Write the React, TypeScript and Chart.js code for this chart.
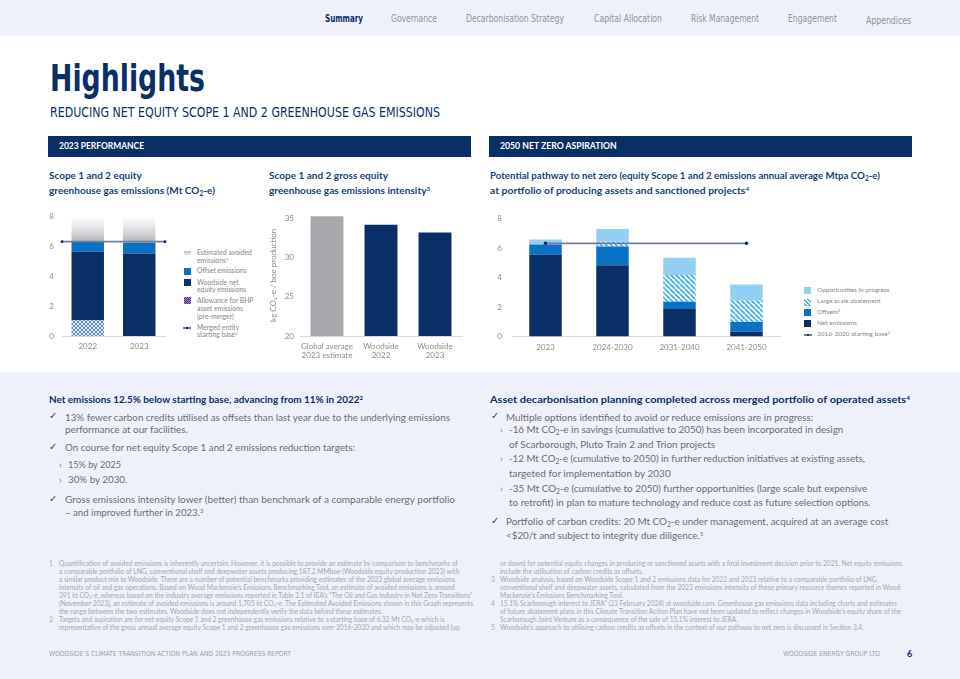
import React, { useEffect, useLayoutEffect, useRef } from 'react';
import { Chart, registerables } from 'chart.js';

Chart.register(...registerables);

// ---------------- data ----------------
const performanceYears = ['2022', '2023'];
const bhpAllowance = [1.05, 0];
const netEquityEmissions = [4.59, 5.53];
const offsetEmissions = [0.73, 0.72];
const avoidedEmissions = [1.68, 1.8];
const startingBase = 6.32;
const emissionsTicks = [0, 2, 4, 6, 8];

const intensityCategories = [['Global average', '2023 estimate'], ['Woodside', '2022'], ['Woodside', '2023']];
const intensityValues = [35.3, 34.2, 33.2];
const intensityTicks = [20, 25, 30, 35];

const pathwayPeriods = ['2023', '2024-2030', '2031-2040', '2041-2050'];
const pathwayNet = [5.55, 4.84, 1.86, 0.33];
const pathwayOffsets = [0.7, 1.26, 0.49, 0.65];
const pathwayLargeScale = [0, 0.33, 1.83, 1.46];
const pathwayOpportunities = [0.33, 0.87, 1.16, 1.09];
const pathwayBase = [startingBase, null, null, startingBase];

// ---------------- styles ----------------
const NAVY = '#0a2f66';
const BLUE = '#0a72c4';
const LIGHT_BLUE = '#93cff2';
const STRIPE_BLUE = '#4db4ea';
const GREY_BAR = '#a7a9ac';
const BASE_LINE = '#6f7ea0';
const TICK_COLOR = '#8b8c8f';
const PAGE_TINT = '#eef1f9';
const BODY = '#6b6d72';
const TITLE = '#173f73';
const LATO = 'Lato, "Open Sans", sans-serif';
const NARROW = '"Liberation Sans Narrow", "DejaVu Sans Condensed", sans-serif';

Chart.defaults.font.family = 'Lato';

function makeCrossPattern(): CanvasPattern | string {
  const c = document.createElement('canvas');
  c.width = 4;
  c.height = 4;
  const p = c.getContext('2d');
  if (!p) return '#8fa9d8';
  p.fillStyle = '#e4ebf6';
  p.fillRect(0, 0, 4, 4);
  p.fillStyle = '#5d86c8';
  for (let i = 0; i < 4; i++) {
    p.fillRect(i, i, 1, 1);
    p.fillRect(3 - i, i, 1, 1);
  }
  return p.createPattern(c, 'repeat') || '#8fa9d8';
}

function makeStripePattern(): CanvasPattern | string {
  const s = 5;
  const c = document.createElement('canvas');
  c.width = s;
  c.height = s;
  const p = c.getContext('2d');
  if (!p) return STRIPE_BLUE;
  p.fillStyle = '#ffffff';
  p.fillRect(0, 0, s, s);
  p.strokeStyle = STRIPE_BLUE;
  p.lineWidth = 2;
  p.beginPath();
  for (const k of [-s, 0, s]) {
    p.moveTo(k, 0);
    p.lineTo(k + s, s);
  }
  p.stroke();
  return p.createPattern(c, 'repeat') || STRIPE_BLUE;
}

const tickFont = { family: 'Lato', size: 8, lineHeight: 1.15 };

function useChart(build: () => any) {
  const ref = useRef<HTMLCanvasElement>(null);
  useEffect(() => {
    if (!ref.current) return;
    const chart = new Chart(ref.current, build());
    return () => chart.destroy();
  }, []);
  return ref;
}

function buildLeft() {
  const cross = makeCrossPattern();
  const avoidedFill = (c: any) => {
    const chart = c.chart;
    const y = chart.scales && chart.scales.y;
    if (!chart.chartArea || !y) return 'rgba(200,200,200,0.5)';
    const g = chart.ctx.createLinearGradient(0, y.getPixelForValue(6.2), 0, y.getPixelForValue(8.05));
    g.addColorStop(0, '#a9abaf');
    g.addColorStop(0.25, '#c6c8cb');
    g.addColorStop(0.6, '#e6e7e8');
    g.addColorStop(1, '#ffffff');
    return g;
  };
  return {
    type: 'bar',
    data: {
      labels: performanceYears,
      datasets: [
        {
          type: 'line',
          label: 'Merged entity starting base',
          data: [{ x: 0, y: startingBase }, { x: 1, y: startingBase }],
          xAxisID: 'xBase',
          yAxisID: 'y',
          stack: 'base',
          borderColor: BASE_LINE,
          borderWidth: 1.8,
          pointStyle: 'rect',
          pointRadius: 1.8,
          pointBackgroundColor: NAVY,
          pointBorderColor: NAVY,
          pointBorderWidth: 0,
          clip: false,
          order: -1,
        },
        { label: 'Allowance for BHP asset emissions', data: bhpAllowance, backgroundColor: cross, stack: 'e' },
        { label: 'Woodside net equity emissions', data: netEquityEmissions, backgroundColor: NAVY, stack: 'e' },
        { label: 'Offset emissions', data: offsetEmissions, backgroundColor: BLUE, stack: 'e' },
        { label: 'Estimated avoided emissions', data: avoidedEmissions, backgroundColor: avoidedFill, stack: 'e' },
      ],
    },
    options: {
      animation: false,
      responsive: false,
      maintainAspectRatio: false,
      layout: { padding: { top: 10, right: 15, left: 0, bottom: 0 } },
      datasets: { bar: { barPercentage: 0.63, categoryPercentage: 1, grouped: false } },
      plugins: { legend: { display: false }, tooltip: { enabled: false } },
      scales: {
        x: {
          stacked: true,
          grid: { display: false, drawTicks: false },
          border: { display: true, color: '#dadada' },
          ticks: { color: TICK_COLOR, font: tickFont, padding: 6, maxRotation: 0, minRotation: 0 },
          afterFit: (s: any) => { s.height = 28; },
        },
        xBase: { type: 'linear', display: false, offset: false, min: 0, max: 1 },
        y: {
          stacked: true,
          min: 0,
          max: 8,
          afterBuildTicks: (s: any) => { s.ticks = emissionsTicks.map((v) => ({ value: v })); },
          grid: { display: false, drawTicks: false },
          border: { display: false },
          ticks: { color: TICK_COLOR, font: tickFont, padding: 8 },
          afterFit: (s: any) => { s.width = 22; },
        },
      },
    },
  };
}

function buildMid() {
  return {
    type: 'bar',
    data: {
      labels: intensityCategories,
      datasets: [
        {
          label: 'Intensity',
          data: intensityValues,
          backgroundColor: [GREY_BAR, NAVY, NAVY],
          barPercentage: 0.61,
          categoryPercentage: 1,
        },
      ],
    },
    options: {
      animation: false,
      responsive: false,
      maintainAspectRatio: false,
      layout: { padding: { top: 10, right: 10, left: 0, bottom: 0 } },
      plugins: { legend: { display: false }, tooltip: { enabled: false } },
      scales: {
        x: {
          grid: { display: false, drawTicks: false },
          border: { display: true, color: '#dadada' },
          ticks: {
            color: TICK_COLOR, font: { family: 'Lato', size: 8, lineHeight: 1.125 }, padding: 6,
            maxRotation: 0, minRotation: 0, autoSkip: false,
          },
          afterFit: (s: any) => { s.height = 28; },
        },
        y: {
          min: 20,
          max: 35.5,
          afterBuildTicks: (s: any) => { s.ticks = intensityTicks.map((v) => ({ value: v })); },
          grid: { display: false, drawTicks: false },
          border: { display: false },
          ticks: { color: TICK_COLOR, font: tickFont, padding: 6 },
          title: {
            display: true,
            text: 'kg CO₂-e / boe production',
            color: TICK_COLOR,
            font: { family: 'Lato', size: 8, lineHeight: 1.2 },
            padding: { top: 6.5, bottom: 0 },
          },
          afterFit: (s: any) => { s.width = 38; },
        },
      },
    },
  };
}

function buildRight() {
  const stripes = makeStripePattern();
  return {
    type: 'bar',
    data: {
      labels: pathwayPeriods,
      datasets: [
        {
          type: 'line',
          label: '2016-2020 starting base',
          data: pathwayBase,
          spanGaps: true,
          stack: 'base',
          borderColor: BASE_LINE,
          borderWidth: 1.8,
          pointRadius: 1.8,
          pointBackgroundColor: NAVY,
          pointBorderColor: NAVY,
          pointBorderWidth: 0,
          clip: false,
          order: -1,
        },
        { label: 'Net emissions', data: pathwayNet, backgroundColor: NAVY, stack: 'p' },
        { label: 'Offsets', data: pathwayOffsets, backgroundColor: BLUE, stack: 'p' },
        { label: 'Large scale abatement', data: pathwayLargeScale, backgroundColor: stripes, stack: 'p' },
        { label: 'Opportunities in progress', data: pathwayOpportunities, backgroundColor: LIGHT_BLUE, stack: 'p' },
      ],
    },
    options: {
      animation: false,
      responsive: false,
      maintainAspectRatio: false,
      layout: { padding: { top: 10, right: 10, left: 0, bottom: 0 } },
      datasets: { bar: { barPercentage: 0.485, categoryPercentage: 1, grouped: false } },
      plugins: { legend: { display: false }, tooltip: { enabled: false } },
      scales: {
        x: {
          stacked: true,
          grid: { display: false, drawTicks: false },
          border: { display: true, color: '#dadada' },
          ticks: { color: TICK_COLOR, font: tickFont, padding: 6, maxRotation: 0, minRotation: 0, autoSkip: false },
          afterFit: (s: any) => { s.height = 27.5; },
        },
        y: {
          stacked: true,
          min: 0,
          max: 8,
          afterBuildTicks: (s: any) => { s.ticks = emissionsTicks.map((v) => ({ value: v })); },
          grid: { display: false, drawTicks: false },
          border: { display: false },
          ticks: { color: TICK_COLOR, font: tickFont, padding: 10 },
          afterFit: (s: any) => { s.width = 22; },
        },
      },
    },
  };
}

// ---------------- text helpers ----------------
const Sub = ({ children }: { children: React.ReactNode }) => (
  <sub style={{ fontSize: '0.68em', verticalAlign: '-0.3em', lineHeight: 0 }}>{children}</sub>
);
const Sup = ({ children }: { children: React.ReactNode }) => (
  <sup style={{ fontSize: '0.6em', verticalAlign: '0.55em', lineHeight: 0 }}>{children}</sup>
);
const CO2 = () => (<>CO<Sub>2</Sub></>);

type TxtProps = {
  x: number; cy: number; size: number; color?: string; weight?: number | string;
  family?: string; ls?: number; k?: number; w?: number; children: React.ReactNode;
};
// w: the width the line spans in the reference; the line is fitted to it horizontally.
const Txt = ({ x, cy, size, color = BODY, weight = 400, family = LATO, ls = 0, k = 0.58, w, children }: TxtProps) => {
  const ref = useRef<HTMLDivElement>(null);
  useLayoutEffect(() => {
    const el = ref.current;
    if (!el || !w) return;
    el.style.transform = 'none';
    const natural = el.getBoundingClientRect().width;
    if (natural > 0) el.style.transform = `scaleX(${w / natural})`;
  }, [w]);
  return (
    <div
      ref={ref}
      style={{
        position: 'absolute', left: x, top: cy - size * k, fontSize: size, lineHeight: 1,
        fontFamily: family, fontWeight: weight as any, color, letterSpacing: ls, whiteSpace: 'nowrap',
        transformOrigin: 'left center',
      }}
    >
      {children}
    </div>
  );
};

const Box = ({ x, y, w, h, bg }: { x: number; y: number; w: number; h: number; bg: string }) => (
  <div style={{ position: 'absolute', left: x, top: y, width: w, height: h, background: bg }} />
);

const navItems: [string, number, number, number][] = [
  ['Summary', 325, 38, 19],
  ['Governance', 391, 46, 19],
  ['Decarbonisation Strategy', 466, 98, 19],
  ['Capital Allocation', 594, 68, 19],
  ['Risk Management', 691, 68, 19],
  ['Engagement', 788, 49, 19],
  ['Appendices', 866, 45, 20.5],
];

const footLeft: [string, React.ReactNode][] = [
  ['1', 'Quantification of avoided emissions is inherently uncertain. However, it is possible to provide an estimate by comparison to benchmarks of'],
  ['', 'a comparable portfolio of LNG, conventional shelf and deepwater assets producing 187.2 MMboe (Woodside equity production 2023) with'],
  ['', 'a similar product mix to Woodside. There are a number of potential benchmarks providing estimates of the 2023 global average emissions'],
  ['', 'intensity of oil and gas operations. Based on Wood Mackenzie’s Emissions Benchmarking Tool, an estimate of avoided emissions is around'],
  ['', <>391 kt <CO2 />-e, whereas based on the industry average emissions reported in Table 3.1 of IEA’s “The Oil and Gas Industry in Net Zero Transitions”</>],
  ['', <>(November 2023), an estimate of avoided emissions is around 1,705 kt <CO2 />-e. The Estimated Avoided Emissions shown in this Graph represents</>],
  ['', 'the range between the two estimates. Woodside does not independently verify the data behind these estimates.'],
  ['2', <>Targets and aspiration are for net equity Scope 1 and 2 greenhouse gas emissions relative to a starting base of 6.32 Mt <CO2 />-e which is</>],
  ['', 'representative of the gross annual average equity Scope 1 and 2 greenhouse gas emissions over 2016-2020 and which may be adjusted (up'],
];

const footRight: [string, React.ReactNode][] = [
  ['', 'or down) for potential equity changes in producing or sanctioned assets with a final investment decision prior to 2021. Net equity emissions'],
  ['', 'include the utilisation of carbon credits as offsets.'],
  ['3', 'Woodside analysis, based on Woodside Scope 1 and 2 emissions data for 2022 and 2023 relative to a comparable portfolio of LNG,'],
  ['', 'conventional shelf and deepwater assets, calculated from the 2023 emissions intensity of these primary resource themes reported in Wood'],
  ['', 'Mackenzie’s Emissions Benchmarking Tool.'],
  ['4', '15.1% Scarborough interest to JERA” (23 February 2024) at woodside.com. Greenhouse gas emissions data including charts and estimates'],
  ['', 'of future abatement plans in this Climate Transition Action Plan have not been updated to reflect changes in Woodside’s equity share of the'],
  ['', 'Scarborough Joint Venture as a consequence of the sale of 15.1% interest to JERA.'],
  ['5', 'Woodside’s approach to utilising carbon credits as offsets in the context of our pathway to net zero is discussed in Section 3.4.'],
];

const Check = ({ x, cy }: { x: number; cy: number }) => (
  <Txt x={x} cy={cy} size={10} color="#3d3f44" family='"DejaVu Sans", sans-serif' k={0.62}>✓</Txt>
);
const Chev = ({ x, cy }: { x: number; cy: number }) => (
  <Txt x={x} cy={cy} size={10} color="#7a7c80">›</Txt>
);

const LegendText = ({ x, lines, size = 6.8 }: { x: number; lines: [number, React.ReactNode][]; size?: number }) => (
  <>
    {lines.map(([cy, t], i) => (
      <Txt key={i} x={x} cy={cy} size={size} color="#85878b">{t}</Txt>
    ))}
  </>
);

const BaseIcon = ({ x, cy }: { x: number; cy: number }) => (
  <>
    <div style={{ position: 'absolute', left: x, top: cy - 0.8, width: 8, height: 1.6, background: BASE_LINE }} />
    <div style={{ position: 'absolute', left: x + 3, top: cy - 1, width: 2, height: 2, background: NAVY }} />
  </>
);

export default function App() {
  const leftRef = useChart(buildLeft);
  const midRef = useChart(buildMid);
  const rightRef = useChart(buildRight);

  const bodySize = 10;
  const headSize = 10;
  const footSize = 6.6;
  const footY0 = 564;
  const footStep = 7.95;

  return (
    <div
      style={{
        position: 'absolute', left: 0, top: 0, width: 960, height: 679, overflow: 'hidden',
        background: '#ffffff', fontFamily: LATO,
      }}
    >
      <Box x={0} y={0} w={960} h={36} bg={PAGE_TINT} />
      <Box x={0} y={372} w={960} h={307} bg={PAGE_TINT} />

      {navItems.map(([t, x, w, cy], i) => (
        <Txt key={t} x={x} cy={cy} w={w} size={10.5} family={NARROW} k={0.55}
          color={i === 0 ? NAVY : '#8d93a6'} weight={i === 0 ? 700 : 400}>{t}</Txt>
      ))}

      <Txt x={50} cy={77.5} w={155} size={38} family={NARROW} weight={700} color={NAVY} k={0.49}>Highlights</Txt>
      <Txt x={50} cy={112} w={390} size={13.2} family={NARROW} color={NAVY} k={0.49}>
        REDUCING NET EQUITY SCOPE 1 AND 2 GREENHOUSE GAS EMISSIONS
      </Txt>

      <Box x={48} y={136} w={423} h={21} bg={NAVY} />
      <Txt x={59} cy={146.3} w={85} size={8.6} color="#ffffff" weight={700} k={0.53}>2023 PERFORMANCE</Txt>
      <Box x={489} y={136} w={423} h={21} bg={NAVY} />
      <Txt x={500} cy={146.3} w={116.7} size={8.6} color="#ffffff" weight={700} k={0.53}>2050 NET ZERO ASPIRATION</Txt>

      <Txt x={49} cy={176.5} w={92.7} size={9.6} color={TITLE} weight={700}>Scope 1 and 2 equity</Txt>
      <Txt x={49} cy={191.3} w={166} size={9.6} color={TITLE} weight={700}>greenhouse gas emissions (Mt <CO2 />-e)</Txt>
      <Txt x={269} cy={176.5} w={119} size={9.6} color={TITLE} weight={700}>Scope 1 and 2 gross equity</Txt>
      <Txt x={269} cy={191.3} w={161} size={9.6} color={TITLE} weight={700}>greenhouse gas emissions intensity<Sup>3</Sup></Txt>
      <Txt x={490} cy={176.5} w={390} size={9.6} color={TITLE} weight={700}>Potential pathway to net zero (equity Scope 1 and 2 emissions annual average Mtpa <CO2 />-e)</Txt>
      <Txt x={490} cy={191.3} w={259} size={9.6} color={TITLE} weight={700}>at portfolio of producing assets and sanctioned projects<Sup>4</Sup></Txt>

      <canvas ref={leftRef} width={140} height={160} style={{ position: 'absolute', left: 40, top: 204 }} />
      <canvas ref={midRef} width={210} height={160} style={{ position: 'absolute', left: 262, top: 204 }} />
      <canvas ref={rightRef} width={300} height={160} style={{ position: 'absolute', left: 490, top: 204 }} />

      {/* left legend */}
      <div style={{ position: 'absolute', left: 184, top: 251, width: 7, height: 4, background: 'linear-gradient(#bfc1c4, #ececed)' }} />
      <div style={{ position: 'absolute', left: 184, top: 267.5, width: 7, height: 7, background: BLUE }} />
      <div style={{ position: 'absolute', left: 184, top: 278.5, width: 7, height: 7, background: NAVY }} />
      <div style={{ position: 'absolute', left: 184, top: 297, width: 7, height: 7, background: 'repeating-conic-gradient(#4b2d7f 0 25%, #a18ac6 0 50%) 0 0 / 2px 2px' }} />
      <BaseIcon x={183} cy={328} />
      <LegendText x={197} lines={[
        [253.3, 'Estimated avoided'], [261, <>emissions<Sup>1</Sup></>],
        [271.3, 'Offset emissions'],
        [282.7, 'Woodside net'], [290.3, 'equity emissions'],
        [301.3, 'Allowance for BHP'], [309, 'asset emissions'], [316.7, '(pre-merger)'],
        [327.7, 'Merged entity'], [335.3, <>starting base<Sup>2</Sup></>],
      ]} />

      {/* right legend */}
      <div style={{ position: 'absolute', left: 804, top: 287.2, width: 7, height: 7, background: LIGHT_BLUE }} />
      <div style={{ position: 'absolute', left: 804, top: 298.5, width: 7, height: 7, background: `repeating-linear-gradient(45deg, #ffffff 0 1.2px, ${STRIPE_BLUE} 1.2px 2.8px)` }} />
      <div style={{ position: 'absolute', left: 804, top: 308.8, width: 7, height: 7, background: BLUE }} />
      <div style={{ position: 'absolute', left: 804, top: 319.8, width: 7, height: 7, background: NAVY }} />
      <BaseIcon x={803.5} cy={335} />
      <LegendText x={817} size={6.5} lines={[
        [290.7, 'Opportunities in progress'],
        [302, 'Large scale abatement'],
        [312.3, <>Offsets<Sup>4</Sup></>],
        [323.3, 'Net emissions'],
        [335, <>2016-2020 starting base<Sup>2</Sup></>],
      ]} />

      {/* left text column */}
      <Txt x={49} cy={400} w={314} size={headSize} color={NAVY} weight={700}>Net emissions 12.5% below starting base, advancing from 11% in 2022<Sup>2</Sup></Txt>
      <Check x={49} cy={417.3} />
      <Txt x={65} cy={417.3} w={385} size={bodySize}>13% fewer carbon credits utilised as offsets than last year due to the underlying emissions</Txt>
      <Txt x={65} cy={430} w={122.7} size={bodySize}>performance at our facilities.</Txt>
      <Check x={49} cy={447.7} />
      <Txt x={65} cy={447.7} w={290} size={bodySize}>On course for net equity Scope 1 and 2 emissions reduction targets:</Txt>
      <Chev x={59} cy={464.3} />
      <Txt x={68} cy={464.3} w={53} size={bodySize}>15% by 2025</Txt>
      <Chev x={59} cy={479.7} />
      <Txt x={68} cy={479.7} w={59.3} size={bodySize}>30% by 2030.</Txt>
      <Check x={49} cy={500} />
      <Txt x={65} cy={500} w={390} size={bodySize}>Gross emissions intensity lower (better) than benchmark of a comparable energy portfolio</Txt>
      <Txt x={65} cy={512.7} w={138.3} size={bodySize}>– and improved further in 2023.<Sup>3</Sup></Txt>

      {/* right text column */}
      <Txt x={490} cy={400} w={420} size={headSize} color={NAVY} weight={700}>Asset decarbonisation planning completed across merged portfolio of operated assets<Sup>4</Sup></Txt>
      <Check x={491} cy={417.3} />
      <Txt x={506} cy={417.3} w={307.3} size={bodySize}>Multiple options identified to avoid or reduce emissions are in progress:</Txt>
      <Chev x={500} cy={430} />
      <Txt x={509} cy={430} w={334.3} size={bodySize}>-16 Mt <CO2 />-e in savings (cumulative to 2050) has been incorporated in design</Txt>
      <Txt x={509} cy={444.3} w={206} size={bodySize}>of Scarborough, Pluto Train 2 and Trion projects</Txt>
      <Chev x={500} cy={459} />
      <Txt x={509} cy={459} w={356} size={bodySize}>-12 Mt <CO2 />-e (cumulative to 2050) in further reduction initiatives at existing assets,</Txt>
      <Txt x={509} cy={473.3} w={161.7} size={bodySize}>targeted for implementation by 2030</Txt>
      <Chev x={500} cy={488.3} />
      <Txt x={509} cy={488.3} w={358.3} size={bodySize}>-35 Mt <CO2 />-e (cumulative to 2050) further opportunities (large scale but expensive</Txt>
      <Txt x={509} cy={502.3} w={361.7} size={bodySize}>to retrofit) in plan to mature technology and reduce cost as future selection options.</Txt>
      <Check x={491} cy={521.7} />
      <Txt x={506} cy={521.7} w={382.3} size={bodySize}>Portfolio of carbon credits: 20 Mt <CO2 />-e under management, acquired at an average cost</Txt>
      <Txt x={506} cy={535.7} w={197.3} size={bodySize}>&lt;$20/t and subject to integrity due diligence.<Sup>5</Sup></Txt>

      {/* footnotes */}
      {footLeft.map(([n, t], i) => (
        <React.Fragment key={'fl' + i}>
          {n && <Txt x={49} cy={footY0 + i * footStep} size={footSize} color="#a4a8b3">{n}</Txt>}
          <Txt x={59} cy={footY0 + i * footStep} size={footSize} color="#a4a8b3">{t}</Txt>
        </React.Fragment>
      ))}
      {footRight.map(([n, t], i) => (
        <React.Fragment key={'fr' + i}>
          {n && <Txt x={491} cy={footY0 + i * footStep} size={footSize} color="#a4a8b3">{n}</Txt>}
          <Txt x={500} cy={footY0 + i * footStep} size={footSize} color="#a4a8b3">{t}</Txt>
        </React.Fragment>
      ))}

      {/* footer */}
      <Txt x={49} cy={654} w={242} size={7} family={NARROW} color="#9aa0b2" k={0.49}>WOODSIDE’S CLIMATE TRANSITION ACTION PLAN AND 2023 PROGRESS REPORT</Txt>
      <Txt x={783} cy={654} w={97} size={7} family={NARROW} color="#9aa0b2" k={0.49}>WOODSIDE ENERGY GROUP LTD</Txt>
      <Txt x={907} cy={654} size={9} color={NAVY} weight={700} k={0.53}>6</Txt>
    </div>
  );
}
